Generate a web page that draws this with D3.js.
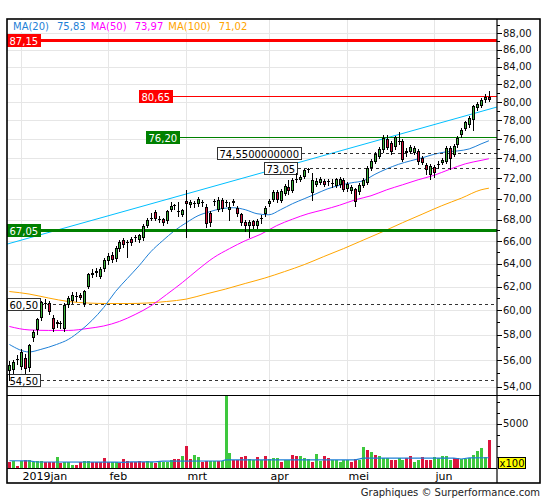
<!DOCTYPE html>
<html><head><meta charset="utf-8">
<script src="https://cdn.jsdelivr.net/npm/d3@7/dist/d3.min.js"></script>
<style>
html,body{margin:0;padding:0;background:#fff;}
svg{display:block;font-family:"DejaVu Sans",Verdana,sans-serif;}
</style></head><body>
<svg id="chart" width="545" height="500"></svg>
<script>
// ---------- DATA ----------
const monthDays = [
  ["2018-12",[27,28,31]],
  ["2019-01",[2,3,4,7,8,9,10,11,14,15,16,17,18,21,22,23,24,25,28,29,30,31]],
  ["2019-02",[1,4,5,6,7,8,11,12,13,14,15,18,19,20,21,22,25,26,27,28]],
  ["2019-03",[1,4,5,6,7,8,11,12,13,14,15,18,19,20,21,22,25,26,27,28,29]],
  ["2019-04",[1,2,3,4,5,8,9,10,11,12,15,16,17,18,23,24,25,26,29,30]],
  ["2019-05",[2,3,6,7,8,9,10,13,14,15,16,17,20,21,22,23,24,27,28,29,30,31]],
  ["2019-06",[3,4,5,6,7,10,11,12,13,14,17,18,19,20,21]]
];
const monthKeys = ["2019-01","2019-02","2019-03","2019-04","2019-05","2019-06"];
const monthLabels = ["2019jan","feb","mrt","apr","mei","jun"];

const open = [55.2,55.25,56.0,55.5,56.2,55.4,57.75,58.35,59.4,60.55,
 60.6,59.4,58.9,58.85,58.45,60.45,60.8,61.2,61.3,60.5,
 62.0,63.0,63.2,62.85,63.5,64.2,64.75,64.4,65.3,66.1,
 65.8,66.2,66.3,66.15,66.3,67.45,68.1,68.75,68.05,68.05,
 67.85,68.9,69.35,68.75,68.45,69.8,69.4,69.55,69.45,69.7,
 69.2,68.6,69.65,68.95,69.85,69.55,68.9,69.6,69.15,68.5,
 67.75,67.4,67.85,67.4,68.1,68.5,69.45,69.9,70.6,69.8,
 70.5,71.1,70.75,71.85,71.85,72.15,72.85,70.55,71.35,71.55,
 71.75,71.6,71.55,71.25,71.3,71.85,70.9,70.75,70.9,70.6,
 71.25,71.55,73.0,73.65,74.15,74.9,76.05,75.6,75.15,75.7,
 75.8,74.55,74.7,74.6,74.75,74.05,73.35,72.3,73.1,73.35,
 73.55,73.65,75.1,74.4,75.35,76.4,77.1,77.5,78.05,79.35,
 79.55,80.2,80.55];
const high = [55.9,56.0,56.4,56.9,56.5,57.3,58.4,59.4,60.8,60.9,
 60.75,59.6,59.2,59.1,60.6,61.2,61.5,61.5,61.45,61.7,
 63.2,63.5,63.6,63.65,64.5,64.9,65.0,65.6,66.1,66.3,
 66.1,66.35,66.6,66.7,67.6,68.15,68.6,68.9,68.3,68.2,
 68.95,69.65,69.5,69.7,69.0,70.85,69.9,69.75,70.2,69.85,
 69.45,68.8,70.0,70.15,70.05,69.9,69.7,69.95,69.3,68.6,
 67.95,67.95,68.0,68.1,68.45,69.3,70.0,70.8,70.85,70.9,
 71.4,71.85,72.0,72.55,72.3,72.95,73.05,72.55,72.0,72.15,
 71.95,71.95,71.95,72.05,72.1,72.0,71.6,71.3,71.05,71.5,
 72.05,73.2,73.9,74.7,75.2,76.45,76.4,75.85,76.35,76.7,
 76.0,75.05,75.4,75.25,74.95,74.25,73.5,73.4,73.3,73.75,
 74.05,75.25,75.3,75.5,76.3,77.15,77.95,78.5,79.7,79.95,
 80.4,80.85,81.2];
const low = [54.5,55.0,55.7,55.3,55.0,55.2,57.5,58.1,59.2,60.2,
 59.7,58.3,58.6,58.55,58.3,60.3,60.6,60.8,60.9,60.35,
 61.9,62.8,62.9,62.7,63.3,64.0,64.1,64.2,65.1,65.5,
 64.6,65.7,66.0,65.95,66.1,67.3,67.95,67.95,67.8,67.5,
 67.7,68.8,69.0,68.3,68.35,66.4,69.2,69.2,69.3,69.3,
 67.35,67.45,69.35,68.8,68.85,69.3,67.95,69.4,68.35,67.5,
 66.9,66.35,67.2,67.2,67.7,68.35,69.3,69.75,69.7,69.65,
 70.4,70.5,70.6,71.6,71.7,72.0,72.65,69.9,71.2,71.4,
 71.2,71.35,71.1,71.1,71.15,70.7,70.75,70.55,69.3,70.45,
 71.1,71.4,72.85,73.5,74.0,74.7,74.95,74.5,75.0,75.45,
 73.7,74.3,74.55,74.45,73.45,73.4,72.45,71.95,72.15,73.0,
 73.4,73.5,72.95,74.25,75.2,76.25,76.95,77.3,76.95,79.15,
 79.4,80.0,80.1];
const close = [55.6,55.85,56.1,56.6,55.3,57.2,58.2,59.25,60.65,60.6,
 59.85,58.45,59.0,58.95,60.45,61.0,61.3,61.1,61.05,61.6,
 63.05,63.2,63.35,63.5,64.3,64.7,64.3,65.4,65.9,65.7,
 65.95,65.85,66.4,66.55,67.4,68.0,68.2,68.1,67.95,67.65,
 68.8,69.25,69.25,68.85,68.9,69.5,69.7,69.5,69.95,69.6,
 67.55,67.65,69.75,69.9,69.0,69.65,69.2,69.75,68.5,67.7,
 67.45,67.75,67.4,67.9,68.15,69.15,69.8,70.6,69.9,70.7,
 71.25,70.75,71.85,71.95,72.15,72.85,72.95,71.85,71.7,71.95,
 71.35,71.7,71.45,71.9,71.9,70.85,71.4,71.15,69.7,71.35,
 71.85,73.05,73.75,74.5,75.0,76.1,75.1,74.65,76.2,75.8,
 73.85,74.8,75.2,75.05,73.6,73.55,72.8,73.25,72.5,73.45,
 73.85,75.05,73.95,75.3,76.15,77.0,77.8,78.3,79.55,79.8,
 80.2,80.6,80.2];
// volume, in hundreds of shares
const volume = [625,740,245,740,935,935,700,740,815,665,
 665,665,1195,515,665,665,360,360,665,815,
 815,665,665,665,1160,665,665,665,515,1045,
 815,665,665,815,665,815,665,515,665,665,
 665,935,1045,1045,1390,2535,1045,1505,1275,665,
 815,815,815,815,740,9000,1730,935,935,1195,
 1390,1005,895,1275,895,1390,1005,1120,1120,700,
 895,895,1505,1390,1390,1120,1005,700,1615,815,
 1390,1160,935,935,625,935,935,625,1005,935,
 2345,2075,1810,1505,1390,1120,1120,935,935,1120,
 935,1120,1390,625,935,1275,935,935,1275,1120,
 1390,1390,935,1120,1120,1005,1005,1120,1505,1960,
 2300,1195,3215];
const volumeDir = "dududuuuud"+"dduduuuddu"+"uddddduudd"+"ddddduuduu"+"uuddudduud"+
  "duuduuuddd"+"duududuuud"+"uudduuuduu"+"dduuuuuddu"+"ududuuuddu"+"udduuddduu"+"uuudduuuuu"+"uud";
const volMaIdx = [0,5,7,27,29,31,37,39,54,55,88,90,113,115,117,122];
const volMaVal = [820,810,680,670,640,690,700,780,790,920,930,1120,1110,1020,1150,1160];

const ma20Idx = [0,5,8,12,15,18,21,24,27,30,33,36,39,42,45,48,51,54,57,60,63,66,69,72,75,78,81,84,87,90,93,96,99,102,105,108,111,114,117,120,122];
const ma20Val = [57.23,56.64,56.84,57.23,57.63,58.31,59.16,60.23,61.57,62.69,63.81,65.06,66.05,66.97,67.71,68.37,68.75,69.04,69.13,68.94,68.56,68.46,68.94,69.51,69.99,70.47,70.96,71.30,71.55,71.75,72.39,72.94,73.40,73.75,74.06,74.42,74.67,74.77,74.98,75.50,75.83];
const ma50Idx = [0,5,10,15,20,24,28,32,36,40,44,48,52,56,60,64,68,72,76,80,84,88,92,96,100,104,108,112,116,120,122];
const ma50Val = [58.67,58.39,58.35,58.35,58.51,58.71,59.08,59.65,60.36,61.32,62.34,63.47,64.53,65.33,66.05,66.65,67.44,68.04,68.56,68.94,69.37,69.89,70.28,70.86,71.35,71.85,72.29,72.89,73.45,73.80,73.97];
const ma100Idx = [0,5,10,15,20,25,30,35,40,45,50,55,60,65,70,75,80,85,90,95,100,105,110,115,120,122];
const ma100Val = [61.57,61.36,61.02,60.73,60.60,60.56,60.56,60.60,60.73,60.93,61.36,61.78,62.26,62.73,63.29,63.90,64.62,65.33,66.10,66.88,67.71,68.51,69.32,70.05,70.86,71.02];

const legendNames = ["MA(20)","MA(50)","MA(100)"];
const legendValues = ["75,83","73,97","71,02"];

const trendIdx = [0,122];
const trendVal = [65.8,79.2];

const levelVal  = [87.15, 80.65, 76.20, 74.55, 73.05, 67.05, 60.50, 54.50];
const levelText = ["87,15","80,65","76,20","74,5500000000","73,05","67,05","60,50","54,50"];
const levelFrom = [null, 41, 43, 74, 73, null, null, null];
const levelKind = ["resMajor","res","sup","mark","mark","supMajor","mark","mark"];

const priceTicks = d3.range(54, 89, 2);
const priceMinor = d3.range(55, 90, 2);
const volTicksMajor = [5000];
const volTicksMinor = [1250,2500,3750,6250,7500];
const footer = "Graphiques © Surperformance.com";

// ---------- LAYOUT / STYLE ----------
const W=545,H=500, L=7, R=497, T=19, SEP=395.5, VB=468, B=483, RR=540;
const C = {grid:"#e6e6e6", up:"#3cb43c", dn:"#d4103c", vup:"#3ec83e", vdn:"#dc143c",
  ma20:"#1e7fd6", ma50:"#ff00ff", ma100:"#ffa500", trend:"#00bfff"};
const kindStyle = {
  resMajor:{stroke:"#ff0000",w:3,dash:null,fill:"#ff0000",text:"#fff",border:"#ff0000"},
  res:{stroke:"#ff0000",w:1,dash:null,fill:"#ff0000",text:"#fff",border:"#ff0000"},
  sup:{stroke:"#008000",w:1,dash:null,fill:"#008000",text:"#fff",border:"#008000"},
  supMajor:{stroke:"#008000",w:3,dash:null,fill:"#008000",text:"#fff",border:"#008000"},
  mark:{stroke:"#333",w:1,dash:"3,3",fill:"#fff",text:"#000",border:"#333"}
};
const crisp = v => Math.round(v)+0.5;

const dates = [];
monthDays.forEach(([m,ds]) => ds.forEach(d => dates.push(m+"-"+String(d).padStart(2,"0"))));

const x = d3.scalePoint().domain(dates).range([9.4, 488.9]);
const y = d3.scaleLog().domain([53.37, 89.72]).range([395, 19]);
const yv = d3.scaleLinear().domain([0, 8200]).range([VB, 395.5]);
const fmt = v => d3.format(".2f")(v).replace(".", ",");

const svg = d3.select("#chart");
const defs = svg.append("defs");
defs.append("clipPath").attr("id","pclip").append("rect").attr("x",L).attr("y",T).attr("width",R-L).attr("height",SEP-T);
defs.append("clipPath").attr("id","vclip").append("rect").attr("x",L).attr("y",SEP+0.5).attr("width",R-L).attr("height",VB-SEP-0.5);

svg.append("rect").attr("width",W).attr("height",H).attr("fill","#fff");

// grid
const grid = svg.append("g").attr("stroke",C.grid).attr("stroke-width",1);
grid.selectAll("line.h").data(priceTicks).join("line").attr("class","h")
  .attr("x1",L).attr("x2",R).attr("y1",d=>crisp(y(d))).attr("y2",d=>crisp(y(d)));
const monthIdx = monthKeys.map(k => dates.findIndex(d => d.startsWith(k)));
grid.selectAll("line.v").data(monthIdx).join("line").attr("class","v")
  .attr("x1",i=>crisp(x(dates[i]))).attr("x2",i=>crisp(x(dates[i]))).attr("y1",T).attr("y2",VB);
grid.selectAll("line.vh").data(volTicksMajor).join("line").attr("class","vh")
  .attr("x1",L).attr("x2",R).attr("y1",d=>crisp(yv(d))).attr("y2",d=>crisp(yv(d)));

// legend background
svg.append("rect").attr("x",10).attr("y",20).attr("width",243).attr("height",12).attr("fill","#fff");

const pg = svg.append("g").attr("clip-path","url(#pclip)");
// trend line
{
  const x0 = x(dates[trendIdx[0]]), x1 = x(dates[trendIdx[1]]);
  const y0 = y(trendVal[0]), y1 = y(trendVal[1]);
  const s = (y1-y0)/(x1-x0);
  pg.append("line").attr("x1",L).attr("y1",y0+(L-x0)*s).attr("x2",R).attr("y2",y0+(R-x0)*s)
    .attr("stroke",C.trend).attr("stroke-width",1);
}
// moving averages
const maLine = d3.line().x(d=>x(dates[d[0]])).y(d=>y(d[1])).curve(d3.curveMonotoneX);
[[ma100Idx,ma100Val,C.ma100],[ma50Idx,ma50Val,C.ma50],[ma20Idx,ma20Val,C.ma20]].forEach(([ix,vs,col])=>{
  pg.append("path").attr("d",maLine(ix.map((i,k)=>[i,vs[k]]))).attr("fill","none").attr("stroke",col).attr("stroke-width",1);
});

// level lines
const levelG = svg.append("g");
const labelG = svg.append("g").attr("font-size",10);
levelVal.forEach((v,k)=>{
  const st = kindStyle[levelKind[k]];
  const yy = st.w%2===1 ? crisp(y(v)) : Math.round(y(v));
  const t = labelG.append("text").attr("fill",st.text).text(levelText[k]);
  const tw = t.node().getComputedTextLength();
  const bw = Math.round(tw+5);
  let bx0, lineStart;
  if (levelFrom[k]===null) { bx0 = L; lineStart = L+bw; }
  else { lineStart = Math.round(x(dates[levelFrom[k]]))+2; bx0 = lineStart-bw; }
  levelG.append("line").attr("x1",lineStart).attr("x2",R).attr("y1",yy).attr("y2",yy)
    .attr("stroke",st.stroke).attr("stroke-width",st.w).attr("stroke-dasharray",st.dash);
  const by = Math.round(y(v))-6;
  labelG.insert("rect","text").attr("x",bx0+0.5).attr("y",by+0.5).attr("width",bw-1).attr("height",12)
    .attr("fill",st.fill).attr("stroke",st.border);
  t.attr("x",bx0+2.5).attr("y",by+10.5);
});

// candles
const cg = svg.append("g").attr("clip-path","url(#pclip)");
const idx = d3.range(dates.length);
cg.selectAll("line.w").data(idx).join("line").attr("class","w")
  .attr("x1",i=>Math.round(x(dates[i]))+0.5).attr("x2",i=>Math.round(x(dates[i]))+0.5)
  .attr("y1",i=>Math.round(y(high[i]))).attr("y2",i=>Math.round(y(low[i]))+1)
  .attr("stroke","#000");
const bodyTop = i=>Math.round(y(Math.max(open[i],close[i])));
const bodyBot = i=>Math.round(y(Math.min(open[i],close[i])));
cg.selectAll("line.doji").data(idx.filter(i=>bodyBot(i)-bodyTop(i)<=1)).join("line").attr("class","doji")
  .attr("x1",i=>Math.round(x(dates[i]))-1).attr("x2",i=>Math.round(x(dates[i]))+2)
  .attr("y1",i=>bodyTop(i)+0.5).attr("y2",i=>bodyTop(i)+0.5).attr("stroke","#000");
cg.selectAll("rect.b").data(idx.filter(i=>bodyBot(i)-bodyTop(i)>1)).join("rect").attr("class","b")
  .attr("x",i=>Math.round(x(dates[i]))-0.5).attr("y",i=>bodyTop(i)+0.5)
  .attr("width",2).attr("height",i=>bodyBot(i)-bodyTop(i)-1)
  .attr("fill",i=>close[i]>=open[i]?C.up:C.dn).attr("stroke","#000").attr("stroke-width",1);

// volume
const vg = svg.append("g").attr("clip-path","url(#vclip)");
vg.selectAll("rect").data(idx).join("rect")
  .attr("x",i=>Math.round(x(dates[i]))-1).attr("width",3)
  .attr("y",i=>Math.round(yv(volume[i]))).attr("height",i=>VB-Math.round(yv(volume[i])))
  .attr("fill",i=>volumeDir[i]==="u"?C.vup:C.vdn);
vg.append("path").attr("d",d3.line().x(d=>x(dates[d[0]])).y(d=>yv(d[1]))(volMaIdx.map((i,k)=>[i,volMaVal[k]])))
  .attr("fill","none").attr("stroke",C.ma20).attr("stroke-width",1.2);

// legend
{
  const lg = svg.append("g").attr("font-size",10);
  const cols = [C.ma20,C.ma50,C.ma100];
  let cx = 13;
  legendNames.forEach((n,k)=>{
    const a = lg.append("text").attr("x",cx).attr("y",30).attr("fill",cols[k]).text(n);
    cx += a.node().getComputedTextLength()+8;
    const b = lg.append("text").attr("x",cx).attr("y",30).attr("fill",cols[k]).text(legendValues[k]);
    cx += b.node().getComputedTextLength()+5;
  });
}

// right axes
const ax = svg.append("g").attr("font-size",10).attr("fill","#111");
ax.selectAll("line.pt").data(priceTicks).join("line").attr("class","pt")
  .attr("x1",R).attr("x2",R+5).attr("y1",d=>crisp(y(d))).attr("y2",d=>crisp(y(d))).attr("stroke","#000");
ax.selectAll("line.pm").data(priceMinor.filter(v=>y(v)>T+2)).join("line").attr("class","pm")
  .attr("x1",R).attr("x2",R+3).attr("y1",d=>crisp(y(d))).attr("y2",d=>crisp(y(d))).attr("stroke","#000");
ax.selectAll("text.pl").data(priceTicks).join("text").attr("class","pl")
  .attr("x",R+6).attr("y",d=>y(d)+3.5).text(fmt);
ax.selectAll("line.vt").data(volTicksMajor).join("line").attr("class","vt")
  .attr("x1",R).attr("x2",R+5).attr("y1",d=>crisp(yv(d))).attr("y2",d=>crisp(yv(d))).attr("stroke","#000");
ax.selectAll("line.vm").data(volTicksMinor).join("line").attr("class","vm")
  .attr("x1",R).attr("x2",R+3).attr("y1",d=>crisp(yv(d))).attr("y2",d=>crisp(yv(d))).attr("stroke","#000");
ax.selectAll("text.vl").data(volTicksMajor).join("text").attr("class","vl")
  .attr("x",R+6).attr("y",d=>yv(d)+3.5).text(d=>String(d));
// x100 badge
svg.append("rect").attr("x",498.5).attr("y",457.5).attr("width",27).attr("height",11).attr("fill","#ffff00").attr("stroke","#000");
svg.append("text").attr("x",499.5).attr("y",467).attr("font-size",10).attr("fill","#000").text("x100");

// frame
const fr = svg.append("g").attr("stroke","#000").attr("fill","none");
fr.append("rect").attr("x",L).attr("y",T).attr("width",RR-L).attr("height",B-T).attr("stroke-width",1.6);
fr.append("line").attr("x1",crisp(R)-0.5).attr("x2",crisp(R)-0.5).attr("y1",T).attr("y2",B).attr("stroke-width",1.2);
fr.append("line").attr("x1",L).attr("x2",RR).attr("y1",SEP).attr("y2",SEP).attr("stroke-width",1.2);
fr.append("line").attr("x1",L).attr("x2",R).attr("y1",VB+0.5).attr("y2",VB+0.5).attr("stroke-width",1.2);

// month labels
svg.append("g").attr("font-size",11).attr("fill","#000").selectAll("text").data(monthIdx).join("text")
  .attr("x",i=>Math.round(x(dates[i]))+1.5).attr("y",480).text((i,k)=>monthLabels[k]);

// footer
svg.append("text").attr("x",540).attr("y",496).attr("text-anchor","end").attr("font-size",10).attr("fill","#222").text(footer);
</script>
</body></html>
